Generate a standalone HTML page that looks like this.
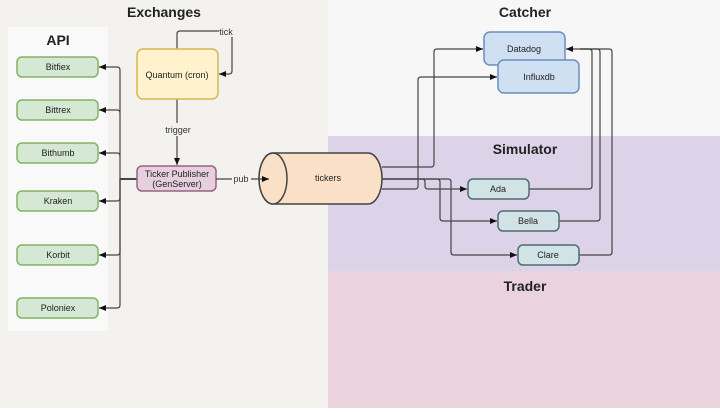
<!DOCTYPE html>
<html><head><meta charset="utf-8"><style>
body{margin:0;width:720px;height:408px;overflow:hidden;font-family:"Liberation Sans",sans-serif}
</style></head><body>
<svg width="720" height="408" xmlns="http://www.w3.org/2000/svg" font-family="Liberation Sans, sans-serif">
<defs><marker id="a" markerWidth="8" markerHeight="8" refX="7" refY="4" orient="auto" markerUnits="userSpaceOnUse"><path d="M0,1 L7,4 L0,7z" fill="#111"/></marker></defs>
<rect x="0" y="0" width="328" height="408" fill="#f3f2ef"/>
<rect x="328" y="0" width="392" height="136" fill="#f7f7f7"/>
<rect x="328" y="136" width="392" height="135" fill="#dcd3e8"/>
<rect x="328" y="271" width="392" height="137" fill="#ebd3de"/>
<rect x="8" y="27" width="100" height="304" fill="#f9f9f9"/>
<g font-weight="bold" font-size="14" text-anchor="middle" fill="#222">
<text x="164" y="17">Exchanges</text><text x="58" y="45">API</text>
<text x="525" y="17">Catcher</text><text x="525" y="154">Simulator</text><text x="525" y="291">Trader</text></g>
<g fill="none" stroke="#444" stroke-width="1.2">
<path d="M216,179 H120" stroke-width="2"/>
<path d="M120,179 V70 Q120,67 117,67 H99" marker-end="url(#a)"/>
<path d="M120,113 Q120,110 117,110 H99" marker-end="url(#a)"/>
<path d="M120,156 Q120,153 117,153 H99" marker-end="url(#a)"/>
<path d="M120,179 V198 Q120,201 117,201 H99" marker-end="url(#a)"/>
<path d="M120,179 V252 Q120,255 117,255 H99" marker-end="url(#a)"/>
<path d="M120,179 V305 Q120,308 117,308 H99" marker-end="url(#a)"/>
<path d="M177,49 V34 Q177,31 180,31 H229 Q232,31 232,34 V71 Q232,74 229,74 H219" marker-end="url(#a)"/>
<path d="M177,99 V165" marker-end="url(#a)"/>
<path d="M382,167 H431 Q434,167 434,164 V52 Q434,49 437,49 H483" marker-end="url(#a)"/>
<path d="M382,189 H415 Q418,189 418,186 V80 Q418,77 421,77 H497" marker-end="url(#a)"/>
<path d="M382,179 H422 Q425,179 425,182 V186 Q425,189 428,189 H467" marker-end="url(#a)"/>
<path d="M382,179 H437 Q440,179 440,182 V218 Q440,221 443,221 H497" marker-end="url(#a)"/>
<path d="M382,179 H448 Q451,179 451,182 V252 Q451,255 454,255 H517" marker-end="url(#a)"/>
<path d="M529,189 H589 Q592,189 592,186 V52 Q592,49 589,49 H566" marker-end="url(#a)"/>
<path d="M559,221 H597 Q600,221 600,218 V52 Q600,49 597,49 H580"/>
<path d="M579,255 H609 Q612,255 612,252 V52 Q612,49 609,49 H580"/>
</g>
<rect x="164" y="123" width="28" height="13" fill="#f3f2ef"/>
<text x="178" y="133" font-size="9" fill="#333" text-anchor="middle">trigger</text>
<rect x="219" y="26" width="16" height="11" fill="#f3f2ef"/>
<text x="226" y="35" font-size="9" fill="#333" text-anchor="middle">tick</text>
<g stroke="#82b366" stroke-width="1.5" fill="#d5e8d4">
<rect x="17" y="57" width="81" height="20" rx="5"/><rect x="17" y="100" width="81" height="20" rx="5"/>
<rect x="17" y="143" width="81" height="20" rx="5"/><rect x="17" y="191" width="81" height="20" rx="5"/>
<rect x="17" y="245" width="81" height="20" rx="5"/><rect x="17" y="298" width="81" height="20" rx="5"/></g>
<g font-size="9" text-anchor="middle" fill="#222">
<text x="58" y="70">Bitfiex</text><text x="58" y="113">Bittrex</text><text x="58" y="156">Bithumb</text>
<text x="58" y="204">Kraken</text><text x="58" y="258">Korbit</text><text x="58" y="311">Poloniex</text></g>
<rect x="137" y="49" width="81" height="50" rx="6" fill="#fff2cc" stroke="#d6b656" stroke-width="1.5"/>
<text x="177" y="78" font-size="9" text-anchor="middle" fill="#222">Quantum (cron)</text>
<rect x="137" y="166" width="79" height="25" rx="5" fill="#e6d0de" stroke="#996185" stroke-width="1.5"/>
<text x="177" y="177" font-size="9" text-anchor="middle" fill="#222">Ticker Publisher</text>
<text x="177" y="187" font-size="9" text-anchor="middle" fill="#222">(GenServer)</text>
<path d="M273,153 H368 A14,25.5 0 0 1 368,204 H273 A14,25.5 0 0 1 273,153z" fill="#fbe0c8" stroke="#444" stroke-width="1.5"/>
<ellipse cx="273" cy="178.5" rx="14" ry="25.5" fill="#fbe0c8" stroke="#444" stroke-width="1.5"/>
<path d="M216,179 H232 M251,179 H269" fill="none" stroke="#444" stroke-width="1.2" marker-end="url(#a)"/>
<text x="241" y="182" font-size="9" fill="#333" text-anchor="middle">pub</text>
<text x="328" y="181" font-size="9" text-anchor="middle" fill="#222">tickers</text>
<rect x="484" y="32" width="81" height="33" rx="6" fill="#cfe0f3" stroke="#6c8ebf" stroke-width="1.5"/>
<text x="524" y="52" font-size="9" text-anchor="middle" fill="#222">Datadog</text>
<rect x="498" y="60" width="81" height="33" rx="6" fill="#cfe0f3" stroke="#6c8ebf" stroke-width="1.5"/>
<text x="539" y="80" font-size="9" text-anchor="middle" fill="#222">Influxdb</text>
<g fill="#d2e3e6" stroke="#4f6a78" stroke-width="1.5">
<rect x="468" y="179" width="61" height="20" rx="5"/><rect x="498" y="211" width="61" height="20" rx="5"/><rect x="518" y="245" width="61" height="20" rx="5"/></g>
<g font-size="9" text-anchor="middle" fill="#222">
<text x="498" y="192">Ada</text><text x="528" y="224">Bella</text><text x="548" y="258">Clare</text></g>
</svg>
</body></html>
